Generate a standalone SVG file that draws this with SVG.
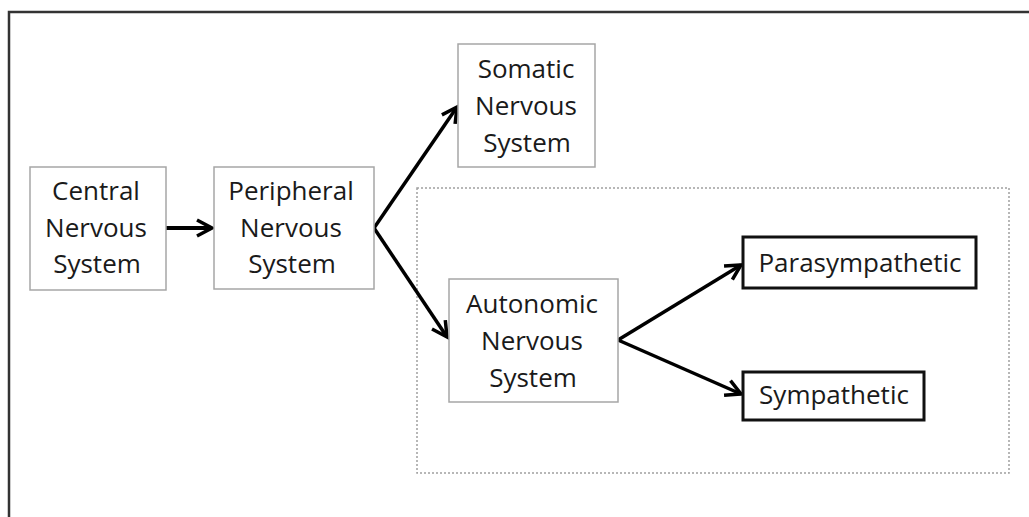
<svg xmlns="http://www.w3.org/2000/svg" width="1029" height="517" viewBox="0 0 1029 517">
  <style>
    .box { fill: #ffffff; stroke: #a6a6a6; stroke-width: 1.5; }
    .bold { fill: #ffffff; stroke: #111111; stroke-width: 3; }
    .group { fill: none; stroke: #a0a0a0; stroke-width: 1.5; stroke-dasharray: 2 2; }
    .frame { fill: none; stroke: #333333; stroke-width: 2.5; }
    .lbl { font-family: "Open Sans", "Liberation Sans", sans-serif; font-size: 26px; fill: #1a1a1a; text-anchor: middle; }
    .conn { fill: none; stroke: #000000; stroke-width: 3.5; marker-end: url(#chev); }
  </style>
  <defs>
    <marker id="chev" markerUnits="userSpaceOnUse" markerWidth="24" markerHeight="24" viewBox="0 0 24 24" refX="19" refY="12" orient="auto">
      <path d="M4,4 L19,12 L4,20" fill="none" stroke="#000000" stroke-width="3.5" stroke-linejoin="miter"/>
    </marker>
  </defs>
  <rect width="1029" height="517" fill="#ffffff"/>
  <g id="frame">
    <polyline class="frame" points="9,517 9,12 1029,12"/>
  </g>
  <g id="autonomic-group">
    <rect class="group" x="417" y="188" width="592" height="285"/>
  </g>
  <g id="connectors">
    <line class="conn" x1="166" y1="228" x2="212" y2="228" style="stroke-width:4"/>
    <line class="conn" x1="374" y1="228" x2="457" y2="107"/>
    <line class="conn" x1="374" y1="228" x2="447" y2="337"/>
    <line class="conn" x1="618" y1="340" x2="741" y2="265"/>
    <line class="conn" x1="618" y1="340" x2="741" y2="394"/>
  </g>
  <g id="cns">
    <rect class="box" x="30" y="167" width="136" height="123"/>
    <text class="lbl" x="96" y="200">Central</text>
    <text class="lbl" x="96" y="237">Nervous</text>
    <text class="lbl" x="97" y="273">System</text>
  </g>
  <g id="pns">
    <rect class="box" x="214" y="167" width="160" height="122"/>
    <text class="lbl" x="291" y="200">Peripheral</text>
    <text class="lbl" x="291" y="237">Nervous</text>
    <text class="lbl" x="292" y="273">System</text>
  </g>
  <g id="somatic">
    <rect class="box" x="458" y="44" width="137" height="123"/>
    <text class="lbl" x="526" y="78">Somatic</text>
    <text class="lbl" x="526" y="115">Nervous</text>
    <text class="lbl" x="527" y="152">System</text>
  </g>
  <g id="autonomic">
    <rect class="box" x="449" y="279" width="169" height="123"/>
    <text class="lbl" x="532" y="313">Autonomic</text>
    <text class="lbl" x="532" y="350">Nervous</text>
    <text class="lbl" x="533" y="387">System</text>
  </g>
  <g id="parasympathetic">
    <rect class="bold" x="743" y="237" width="233" height="51"/>
    <text class="lbl" x="860" y="272">Parasympathetic</text>
  </g>
  <g id="sympathetic">
    <rect class="bold" x="743" y="372" width="181" height="48"/>
    <text class="lbl" x="834" y="404">Sympathetic</text>
  </g>
</svg>
